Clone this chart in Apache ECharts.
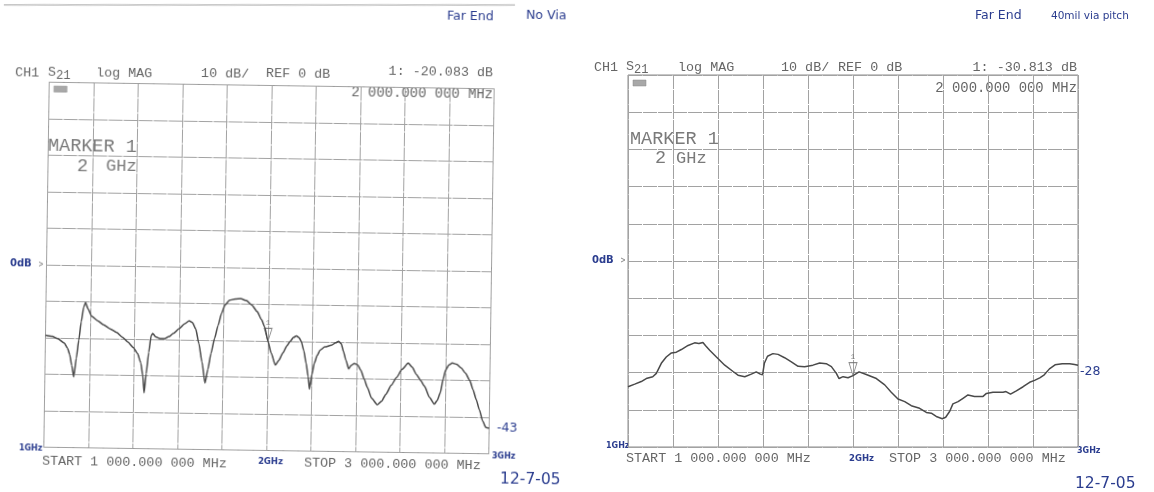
<!DOCTYPE html>
<html>
<head>
<meta charset="utf-8">
<title>S21 far end — no via vs 40 mil via pitch</title>
<script src="https://cdn.jsdelivr.net/npm/echarts@6.0.0/dist/echarts.min.js"></script>
<style>
  html, body { margin: 0; padding: 0; background: #ffffff; }
  #page { position: relative; width: 1154px; height: 492px; overflow: hidden; background: #ffffff; }
  #left  { position: absolute; left: 0; top: 0; width: 600px; height: 492px;
           transform: rotate(0.85deg); transform-origin: 269px 268px; }
  #right { position: absolute; left: 577px; top: 0; width: 577px; height: 492px; }
</style>
</head>
<body>
<div id="page">
  <div id="left"></div>
  <div id="right"></div>
</div>
<script>
// ---- sweep settings (HP network analyser, CH1 S21 log MAG) ----
const FREQ_START = 1.0;   // GHz
const FREQ_STOP  = 3.0;   // GHz
const FREQ_DIV   = 0.2;   // GHz per division
const DB_REF     = 0;     // reference level at the centre line
const DB_DIV     = 10;    // dB per division
const DB_TOP     = 50;
const DB_BOTTOM  = -50;

// ---- trace 1: far end, no via ----
const FREQ_L = [
  1.000, 1.030, 1.055, 1.085, 1.100, 1.110, 1.120, 1.130, 1.140, 1.150,
  1.160, 1.170, 1.178, 1.190, 1.207, 1.235, 1.260, 1.290, 1.320, 1.345,
  1.370, 1.395, 1.415, 1.430, 1.440, 1.447, 1.455, 1.465, 1.475, 1.482,
  1.495, 1.515, 1.535, 1.555, 1.575, 1.600, 1.625, 1.645, 1.660, 1.675,
  1.690, 1.705, 1.720, 1.732, 1.745, 1.760, 1.775, 1.790, 1.805, 1.825,
  1.850, 1.875, 1.900, 1.925, 1.950, 1.970, 1.985, 2.000, 2.015, 2.035,
  2.050, 2.068, 2.085, 2.100, 2.115, 2.128, 2.140, 2.150, 2.162, 2.173,
  2.183, 2.190, 2.200, 2.210, 2.222, 2.235, 2.256, 2.286, 2.305, 2.318,
  2.330, 2.340, 2.352, 2.365, 2.375, 2.390, 2.405, 2.420, 2.435, 2.450,
  2.470, 2.496, 2.515, 2.534, 2.558, 2.580, 2.605, 2.632, 2.650, 2.670,
  2.690, 2.707, 2.730, 2.752, 2.765, 2.778, 2.790, 2.800, 2.815, 2.830,
  2.850, 2.870, 2.890, 2.910, 2.925, 2.940, 2.955, 2.970, 2.985, 3.000
];
const S21_L = [
  -19.3, -19.6, -20.2, -21.4, -22.8, -24.5, -27.5, -30.6, -25.5, -20.5,
  -15.5, -11.5, -10.2, -12.0, -14.0, -15.2, -16.2, -17.3, -18.3, -19.5,
  -20.8, -22.3, -24.0, -26.5, -30.0, -34.7, -29.5, -23.6, -19.0, -18.4,
  -19.3, -19.8, -19.8, -19.2, -18.3, -17.0, -15.6, -14.8, -15.3, -17.0,
  -21.0, -26.0, -31.8, -28.0, -23.6, -19.5, -16.0, -12.6, -10.3, -9.0,
  -8.6, -8.5, -9.0, -10.2, -12.0, -14.2, -16.2, -20.083, -23.2, -26.6,
  -25.3, -23.2, -21.3, -20.0, -18.9, -18.5, -19.0, -20.0, -22.5, -25.9,
  -29.5, -33.0, -29.0, -25.9, -23.8, -22.3, -21.4, -20.9, -20.2, -19.8,
  -20.5, -22.5, -25.0, -27.3, -26.4, -25.8, -26.2, -27.7, -30.0, -32.3,
  -35.3, -37.0, -36.0, -34.1, -31.6, -29.5, -27.2, -25.5, -26.6, -28.6,
  -30.3, -31.8, -34.8, -36.6, -35.6, -33.5, -29.8, -27.3, -25.8, -25.3,
  -25.6, -26.6, -28.0, -30.0, -32.5, -35.2, -38.0, -41.0, -42.8, -43
];
const MARKER_L = [2.0, -20.083];   // marker 1: GHz, dB

// ---- trace 2: far end, 40 mil via pitch ----
const FREQ_R = [
  1.000, 1.030, 1.059, 1.081, 1.110, 1.126, 1.148, 1.170, 1.193, 1.215,
  1.237, 1.267, 1.296, 1.315, 1.333, 1.345, 1.363, 1.393, 1.430, 1.467,
  1.489, 1.519, 1.548, 1.570, 1.588, 1.598, 1.606, 1.620, 1.644, 1.667,
  1.696, 1.726, 1.756, 1.785, 1.822, 1.852, 1.881, 1.904, 1.926, 1.938,
  1.956, 1.978, 2.000, 2.027, 2.059, 2.104, 2.141, 2.170, 2.200, 2.230,
  2.259, 2.296, 2.326, 2.348, 2.370, 2.397, 2.412, 2.430, 2.444, 2.467,
  2.489, 2.511, 2.540, 2.578, 2.593, 2.622, 2.667, 2.680, 2.700, 2.726,
  2.756, 2.785, 2.807, 2.830, 2.850, 2.873, 2.898, 2.930, 2.963, 2.985,
  3.000
];
const S21_R = [
  -33.8, -33.1, -32.4, -31.6, -31.1, -30.2, -27.5, -25.8, -24.7, -24.5,
  -23.8, -22.7, -22.0, -22.2, -21.9, -22.8, -24.0, -25.8, -28.0, -29.7,
  -30.7, -31.1, -30.4, -29.8, -30.4, -30.6, -27.5, -25.6, -24.9, -25.1,
  -26.0, -27.1, -28.3, -28.4, -28.0, -27.4, -27.6, -28.4, -30.2, -31.6,
  -31.1, -31.4, -30.813, -29.8, -30.5, -31.6, -33.3, -35.3, -37.1, -37.8,
  -38.9, -39.6, -40.7, -40.9, -41.8, -42.4, -42.0, -40.4, -38.4, -37.8,
  -36.9, -36.0, -36.4, -36.4, -35.6, -35.3, -35.3, -35.1, -35.8, -34.9,
  -33.8, -32.6, -32.1, -31.4, -30.6, -29.0, -27.9, -27.6, -27.6, -27.8,
  -28
];
const MARKER_R = [2.0, -30.813];

// ---- inks and type ----
const PLOT_FONT = '"Liberation Mono", "DejaVu Sans Mono", monospace';
const HAND_FONT = '"DejaVu Sans", "Noto Sans", sans-serif';
const PLOT_INK  = '#666666';
const TRACE_INK = '#4a4a4a';
const GRID_INK  = '#a2a2a2';
const HAND_INK  = '#2b3d8f';
const HEAD_SIZE = 13.4;

// the left sheet sits turned by a small angle about this pivot
const TILT_DEG = 0.85;
const PIVOT = [269, 268];
function onSheet(x, y) {
  const a = TILT_DEG * Math.PI / 180, c = Math.cos(a), s = Math.sin(a);
  const dx = x - PIVOT[0], dy = y - PIVOT[1];
  return [PIVOT[0] + dx * c + dy * s, PIVOT[1] - dx * s + dy * c];
}

function mhzText(ghz) {
  // 2.0 GHz -> "2 000.000 000 MHz"
  const mhz = Math.round(ghz * 1000);
  return Math.floor(mhz / 1000) + ' ' + String(mhz % 1000).padStart(3, '0') + '.000 000 MHz';
}
function dbText(v) { return '1: ' + v.toFixed(3) + ' dB'; }

function text(pos, str, size, opts) {
  opts = opts || {};
  return {
    type: 'text', x: pos[0], y: pos[1], silent: true,
    style: {
      text: str,
      fill: opts.fill || PLOT_INK,
      font: (opts.weight || 'normal') + ' ' + size + 'px ' + (opts.family || PLOT_FONT),
      align: opts.align || 'left',
      verticalAlign: 'middle'
    }
  };
}
function hand(pos, str, size, opts) {
  opts = opts || {};
  return text(pos, str, size, Object.assign({ fill: HAND_INK, family: HAND_FONT }, opts));
}

function buildOption(cfg) {
  const P = cfg.place;   // maps page coordinates into this chart
  const t = cfg.texts;
  const endVal = cfg.s21[cfg.s21.length - 1];
  const g = [];

  // plotter header
  g.push(text(P(t.ch1[0], t.ch1[1]), 'CH1', HEAD_SIZE));
  g.push(text(P(t.s[0], t.s[1]), 'S', HEAD_SIZE));
  g.push(text(P(t.s[0] + 8, t.s[1] + 4), '21', 12));
  g.push(text(P(t.log[0], t.log[1]), 'log MAG', HEAD_SIZE));
  g.push(text(P(t.div[0], t.div[1]), DB_DIV + ' dB/', HEAD_SIZE));
  g.push(text(P(t.ref[0], t.ref[1]), 'REF ' + DB_REF + ' dB', HEAD_SIZE));
  g.push(text(P(t.mk[0], t.mk[1]), dbText(cfg.marker[1]), HEAD_SIZE, { align: 'right' }));
  g.push(text(P(t.mkf[0], t.mkf[1]), mhzText(cfg.marker[0]), 13.9, { align: 'right' }));

  // small boxed annotation tag in the corner of the graticule
  const b = P(t.tag[0], t.tag[1]);
  g.push({ type: 'rect', silent: true,
           shape: { x: b[0], y: b[1], width: 13, height: 6 },
           style: { fill: '#a8a8a8', stroke: '#8a8a8a', lineWidth: 0.5 } });

  // marker block
  g.push(text(P(t.marker[0], t.marker[1]), 'MARKER 1', 18.5, { fill: '#7a7a7a' }));
  g.push(text(P(t.two[0], t.two[1]), String(cfg.marker[0]).replace('.0', ''), 18.5, { fill: '#7a7a7a' }));
  g.push(text(P(t.ghz[0], t.ghz[1]), 'GHz', 17, { fill: '#7a7a7a' }));

  // start / stop annotation
  g.push(text(P(t.start[0], t.start[1]), 'START ' + mhzText(FREQ_START), 13.4));
  g.push(text(P(t.stop[0], t.stop[1]), 'STOP ' + mhzText(FREQ_STOP), 13.4));

  // pen notes
  g.push(hand(P(t.far[0], t.far[1]), 'Far End', 12.5));
  g.push(hand(P(t.note[0], t.note[1]), cfg.note, cfg.noteSize));
  g.push(hand(P(t.zero[0], t.zero[1]), '0dB', 10, { weight: 'bold' }));
  const tk = P(t.zero[0] + 29, t.zero[1]);
  g.push({ type: 'polyline', silent: true,
           shape: { points: [[tk[0], tk[1] - 2], [tk[0] + 4, tk[1]], [tk[0], tk[1] + 2]] },
           style: { stroke: '#8a8a8a', lineWidth: 1, fill: 'none' } });
  g.push(hand(P(t.g1[0], t.g1[1]), '1GHz', 8, { weight: 'bold' }));
  g.push(hand(P(t.g2[0], t.g2[1]), '2GHz', 8.5, { weight: 'bold' }));
  g.push(hand(P(t.g3[0], t.g3[1]), '3GHz', 8, { weight: 'bold' }));
  g.push(hand(P(t.end[0], t.end[1]), String(endVal), 12.5));
  g.push(hand(P(t.date[0], t.date[1]), '12-7-05', 15.5));

  if (cfg.edge) {
    const e0 = P(0, 5), e1 = P(515, 5);
    g.push({ type: 'line', silent: true,
             shape: { x1: e0[0], y1: e0[1], x2: e1[0], y2: e1[1] },
             style: { stroke: '#b4b4b4', lineWidth: 1.2 } });
  }

  return {
    animation: false,
    backgroundColor: 'transparent',
    grid: Object.assign({ show: true, borderColor: '#8c8c8c', borderWidth: 1,
                          backgroundColor: 'transparent', containLabel: false }, cfg.grid),
    xAxis: {
      type: 'value', min: FREQ_START, max: FREQ_STOP, interval: FREQ_DIV,
      axisLine: { show: false }, axisTick: { show: false }, axisLabel: { show: false },
      splitLine: { show: true, lineStyle: { color: GRID_INK, width: 1, type: [14, 1] } }
    },
    yAxis: {
      type: 'value', min: DB_BOTTOM, max: DB_TOP, interval: DB_DIV,
      axisLine: { show: false }, axisTick: { show: false }, axisLabel: { show: false },
      splitLine: { show: true, lineStyle: { color: GRID_INK, width: 1, type: [14, 1] } }
    },
    series: [
      {
        type: 'line',
        data: cfg.freq.map((f, i) => [f, cfg.s21[i]]),
        showSymbol: false,
        smooth: cfg.smooth,
        smoothMonotone: 'x',
        lineStyle: { color: TRACE_INK, width: 1.5 },
        silent: true
      },
      {
        type: 'scatter',
        data: [cfg.marker],
        symbol: 'path://M0,0 L8,0 L4,13 Z',
        symbolSize: [8, 13],
        symbolOffset: [0, '-50%'],
        itemStyle: { color: 'rgba(255,255,255,0)', borderColor: '#6e6e6e', borderWidth: 1 },
        label: { show: true, formatter: '1', position: 'top', distance: 1,
                 color: '#6e6e6e', fontSize: 8, fontFamily: PLOT_FONT },
        silent: true
      }
    ],
    graphic: { elements: g }
  };
}

// ---- left sheet: far end, no via ----
const leftChart = echarts.init(document.getElementById('left'), null, { renderer: 'canvas' });
leftChart.setOption(buildOption({
  freq: FREQ_L, s21: S21_L, marker: MARKER_L, smooth: 0.2, edge: true,
  note: 'No Via', noteSize: 12.5,
  place: onSheet,
  grid: { left: 46.5, top: 85.5, width: 445, height: 365 },
  texts: {
    ch1: [15, 73], s: [48, 72], log: [96, 73], div: [201, 73], ref: [266, 73],
    mk: [493, 73], mkf: [493, 95], tag: [54, 86],
    marker: [48, 146], two: [77, 166], ghz: [106, 166],
    start: [42, 461], stop: [304, 463],
    far: [447, 16], note: [526, 16],
    zero: [10, 264], g1: [19, 448], g2: [258, 462], g3: [492, 456],
    end: [497, 428], date: [500, 479]
  }
}));

// ---- right sheet: far end, 40 mil via pitch ----
const OX = 577;
const rightChart = echarts.init(document.getElementById('right'), null, { renderer: 'canvas' });
rightChart.setOption(buildOption({
  freq: FREQ_R, s21: S21_R, marker: MARKER_R, smooth: false, edge: false,
  note: '40mil via pitch', noteSize: 10.5,
  place: (x, y) => [x - OX, y],
  grid: { left: 51, top: 75, width: 450, height: 372 },
  texts: {
    ch1: [594, 67], s: [626, 66], log: [678, 67], div: [781, 67], ref: [838, 67],
    mk: [1077, 67], mkf: [1077, 88], tag: [633, 80],
    marker: [630, 139], two: [655, 158], ghz: [676, 158],
    start: [626, 458], stop: [889, 458],
    far: [975, 16], note: [1051, 16],
    zero: [592, 260], g1: [606, 446], g2: [849, 459], g3: [1077, 451],
    end: [1080, 372], date: [1075, 484]
  }
}));
</script>
</body>
</html>
